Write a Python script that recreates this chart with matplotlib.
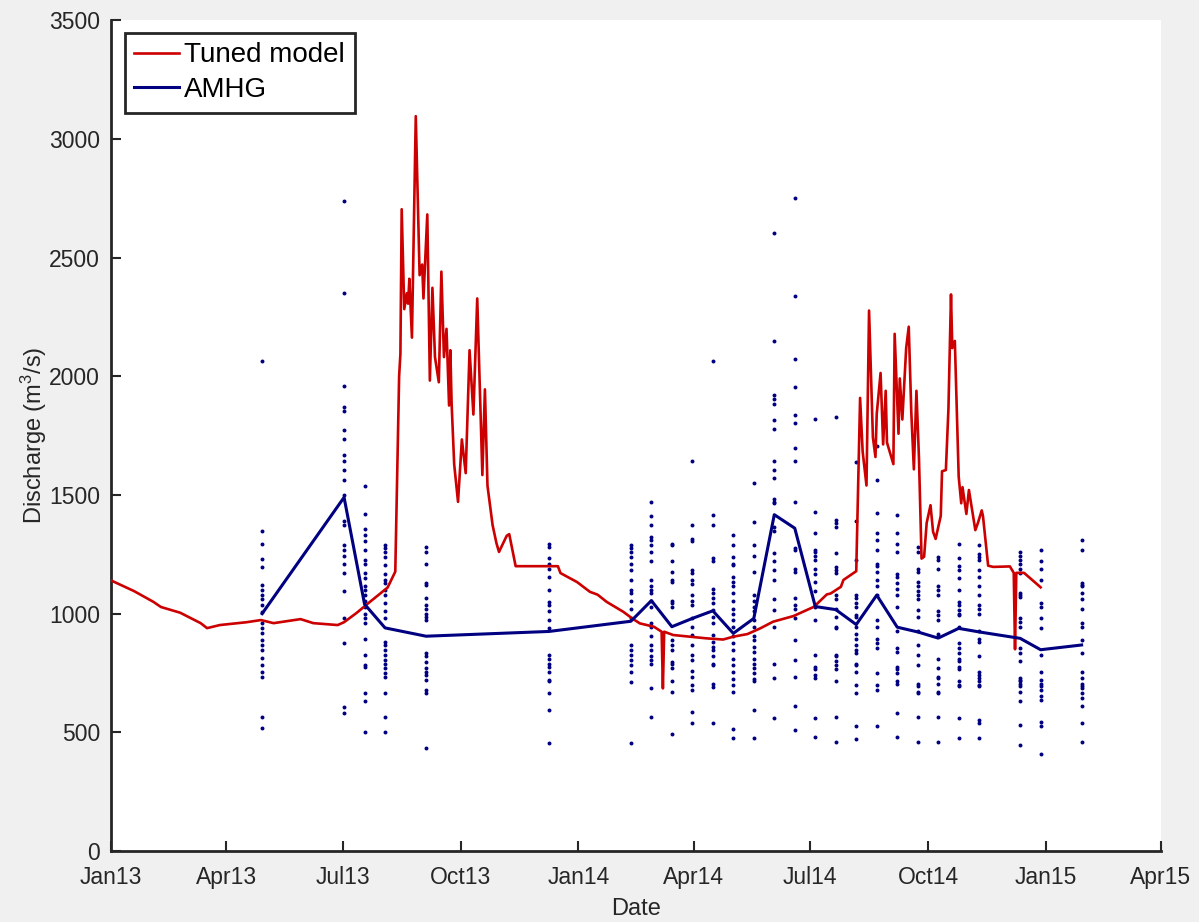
import matplotlib
matplotlib.use("Agg")
import matplotlib.pyplot as plt
import matplotlib.dates as mdates
import numpy as np

BG = "#f0f0f0"
RED = "#cc0000"
NAVY = "#000080"
AXC = "#262626"

plt.rcParams["font.family"] = ["Liberation Sans", "DejaVu Sans"]
plt.rcParams["mathtext.fontset"] = "custom"
plt.rcParams["mathtext.rm"] = "Liberation Sans"
plt.rcParams["mathtext.it"] = "Liberation Sans"

# Tuned model: days since 2013-01-01 and discharge (m3/s)
model_day = [0, 18, 33, 39, 54, 70, 75, 85, 106, 117, 127, 148, 158, 177, 182,
             192, 200, 216, 222, 225, 226, 227, 229, 231, 232, 233, 235, 238,
             241, 243, 244, 247, 249, 251, 253, 256, 258, 260, 262, 264, 265,
             266, 268, 271, 274, 277, 280, 283, 286, 290, 292, 294, 298, 301,
             303, 309, 311, 316, 349, 351, 364, 374, 380, 387, 400, 407, 413,
             424, 430, 431, 432, 439, 452, 465, 478, 486, 497, 507, 517, 533,
             549, 559, 562, 570, 572, 582, 585, 587, 590, 592, 595, 597, 598,
             601, 603, 605, 606, 611, 612, 615, 616, 618, 621, 623, 625, 627,
             629, 631, 633, 635, 637, 640, 642, 644, 648, 649, 652, 654, 656,
             657, 659, 662, 664, 665, 668, 670, 675, 677, 680, 681, 685, 689,
             702, 705, 706, 707, 713, 726]
model_q = [1140, 1095, 1050, 1028, 1004, 960, 939, 952, 964, 973, 960, 977, 960,
           952, 964, 1004, 1040, 1110, 1177, 2000, 2095, 2704, 2283, 2350, 2306,
           2411, 2163, 3096, 2426, 2471, 2328, 2682, 1982, 2373, 2081, 1975,
           2441, 2081, 2200, 1877, 2110, 1884, 1629, 1471, 1734, 1592, 2110,
           1839, 2328, 1584, 1945, 1539, 1373, 1297, 1260, 1328, 1335, 1200,
           1200, 1171, 1133, 1092, 1080, 1050, 1008, 980, 959, 945, 924, 685,
           924, 910, 903, 896, 891, 903, 914, 938, 966, 990, 1029, 1081, 1085,
           1113, 1142, 1179, 1909, 1683, 1540, 2277, 1743, 1660, 1841, 2014,
           1713, 1939, 1721, 1630, 2179, 1758, 1991, 1818, 2119, 2209, 1848,
           1608, 1939, 1653, 1232, 1240, 1382, 1457, 1345, 1315, 1412, 1600,
           1605, 1863, 2345, 2119, 2149, 1578, 1465, 1533, 1420, 1521, 1352,
           1382, 1435, 1410, 1202, 1197, 1199, 1172, 850, 1172, 1172, 1111]

# AMHG: overpass dates, median estimate and the individual estimates
obs_dates = ["2013-04-29", "2013-07-02", "2013-07-18", "2013-08-03", "2013-09-04",
             "2013-12-09", "2014-02-11", "2014-02-27", "2014-03-15", "2014-03-31",
             "2014-04-16", "2014-05-02", "2014-05-18", "2014-06-03", "2014-06-19",
             "2014-07-05", "2014-07-21", "2014-08-06", "2014-08-22", "2014-09-07",
             "2014-09-23", "2014-10-09", "2014-10-25", "2014-11-10", "2014-12-12",
             "2014-12-28", "2015-01-29"]
amhg_q = [1000, 1490, 1040, 940, 905, 925, 968, 1055, 945, 980, 1012, 917, 980,
          1417, 1360, 1030, 1017, 954, 1078, 943, 923, 897, 938, 923, 896, 848, 868]
obs_q = [
    [2065, 1350, 1295, 1230, 1195, 1120, 1100, 1080, 1060, 1035, 1005, 960, 940,
     920, 890, 870, 845, 815, 785, 755, 735, 565, 520],
    [2740, 2350, 1960, 1870, 1855, 1775, 1735, 1670, 1645, 1605, 1565, 1500, 1390,
     1375, 1290, 1270, 1245, 1210, 1170, 1095, 980, 875, 605, 580],
    [1537, 1420, 1355, 1330, 1305, 1270, 1225, 1210, 1170, 1150, 1115, 1100, 1080,
     1055, 1030, 1000, 980, 960, 895, 825, 785, 775, 665, 630, 500],
    [1290, 1275, 1260, 1240, 1205, 1165, 1140, 1130, 1100, 1080, 1045, 1010, 980,
     880, 870, 845, 825, 805, 790, 770, 750, 735, 665, 565, 500],
    [1280, 1260, 1210, 1130, 1120, 1065, 1035, 1020, 1000, 985, 975, 835, 820, 795,
     770, 755, 740, 720, 680, 665, 435],
    [1295, 1280, 1235, 1210, 1190, 1155, 1100, 1050, 1035, 1010, 975, 940, 825, 810,
     790, 775, 755, 720, 715, 665, 595, 455],
    [1290, 1275, 1260, 1240, 1210, 1185, 1140, 1100, 1085, 1055, 1020, 980, 870, 845,
     825, 805, 785, 755, 710, 455],
    [1470, 1410, 1375, 1325, 1310, 1290, 1260, 1220, 1140, 1115, 1100, 1085, 1055,
     1030, 960, 945, 905, 870, 845, 820, 805, 790, 685, 565],
    [1295, 1290, 1220, 1175, 1140, 1135, 1055, 1045, 1030, 890, 870, 845, 795, 790,
     770, 715, 670, 495],
    [1645, 1375, 1315, 1305, 1185, 1170, 1140, 1125, 1080, 1055, 1035, 980, 945, 910,
     870, 825, 805, 760, 735, 700, 680, 585, 540],
    [2065, 1415, 1375, 1235, 1220, 1105, 1085, 1065, 1045, 1015, 985, 960, 910, 880,
     860, 845, 820, 790, 785, 705, 690, 540],
    [1330, 1290, 1240, 1210, 1205, 1155, 1135, 1115, 1085, 1055, 1020, 1000, 975, 945,
     905, 875, 845, 810, 785, 755, 725, 700, 670, 515, 475],
    [1550, 1385, 1290, 1245, 1175, 1080, 1055, 1030, 1010, 975, 945, 905, 890, 860,
     840, 810, 790, 770, 750, 725, 715, 595, 475],
    [2605, 2150, 1920, 1905, 1885, 1815, 1780, 1645, 1605, 1570, 1485, 1470, 1465,
     1365, 1350, 1255, 1220, 1185, 1140, 1060, 1015, 945, 790, 730, 560],
    [2750, 2340, 2075, 1955, 1835, 1805, 1700, 1645, 1470, 1275, 1270, 1190, 1175,
     1065, 1035, 1020, 980, 890, 805, 735, 610, 510],
    [1820, 1430, 1340, 1270, 1260, 1245, 1225, 1190, 1165, 1135, 1095, 1030, 975, 825,
     775, 765, 740, 730, 560, 480],
    [1830, 1395, 1380, 1365, 1255, 1195, 1185, 1170, 1080, 1060, 1020, 985, 945, 940,
     825, 820, 800, 785, 765, 715, 565, 460],
    [1640, 1390, 1225, 1080, 1065, 1045, 1030, 995, 985, 945, 915, 895, 870, 845, 835,
     790, 785, 755, 700, 665, 525, 470],
    [1705, 1565, 1425, 1340, 1310, 1270, 1210, 1200, 1175, 1140, 1115, 1080, 975, 945,
     895, 875, 855, 750, 700, 680, 525],
    [1415, 1340, 1295, 1260, 1165, 1155, 1130, 1105, 1080, 1030, 925, 855, 840, 775,
     765, 750, 715, 705, 580, 480],
    [1280, 1260, 1190, 1175, 1135, 1115, 1095, 1080, 1060, 1015, 985, 925, 870, 825,
     785, 705, 695, 670, 665, 565, 460],
    [1240, 1225, 1190, 1115, 1100, 1080, 1010, 995, 975, 915, 905, 810, 770, 735, 730,
     705, 670, 665, 565, 460],
    [1295, 1235, 1200, 1185, 1150, 1100, 1050, 1035, 1015, 1000, 995, 945, 875, 855,
     835, 810, 800, 775, 765, 715, 700, 695, 560, 475],
    [1290, 1250, 1240, 1225, 1185, 1155, 1115, 1080, 1035, 1020, 1000, 925, 895, 880,
     820, 755, 740, 730, 715, 700, 695, 550, 540, 475],
    [1260, 1245, 1225, 1210, 1190, 1170, 1085, 1080, 1070, 980, 965, 945, 855, 835,
     800, 730, 720, 715, 705, 695, 670, 630, 530, 445],
    [1270, 1220, 1190, 1140, 1045, 1030, 980, 940, 825, 755, 720, 705, 695, 680, 655,
     635, 545, 525, 410],
    [1310, 1270, 1130, 1120, 1115, 1085, 1060, 1020, 960, 945, 890, 835, 755, 730, 705,
     695, 685, 665, 645, 610, 540, 460],
]

start = np.datetime64("2013-01-01")
model_t = start + np.array(model_day).astype("timedelta64[D]")
obs_t = np.array(obs_dates, dtype="datetime64[D]")

fig = plt.figure(figsize=(11.99, 9.22), dpi=100)
fig.patch.set_facecolor(BG)
ax = fig.add_axes([0.0926, 0.077, 0.8757, 0.901])
ax.set_facecolor("white")

for t, vals in zip(obs_t, obs_q):
    ax.scatter(np.full(len(vals), t), vals, s=8, color=NAVY,
               linewidths=0, zorder=2)

ax.plot(model_t, model_q, color=RED, linewidth=1.9, label="Tuned model", zorder=3)
ax.plot(obs_t, amhg_q, color=NAVY, linewidth=2.2, label="AMHG", zorder=4)

ax.set_xlim(np.datetime64("2013-01-01"), np.datetime64("2015-04-01"))
ax.set_ylim(0, 3500)
ax.set_yticks(np.arange(0, 3501, 500))
ax.xaxis.set_major_locator(mdates.MonthLocator(bymonth=[1, 4, 7, 10]))
ax.xaxis.set_major_formatter(mdates.DateFormatter("%b%y"))

for side in ["top", "right"]:
    ax.spines[side].set_visible(False)
for side in ["left", "bottom"]:
    ax.spines[side].set_color(AXC)
    ax.spines[side].set_linewidth(2)
ax.tick_params(direction="in", length=7, width=1.5, color=AXC,
               labelsize=16.5, labelcolor=AXC)
ax.tick_params(axis="x", pad=11)
ax.tick_params(axis="y", pad=8)

ax.set_xlabel("Date", fontsize=17, color=AXC, labelpad=6)
ax.set_ylabel("Discharge (m$^3$/s)", fontsize=17, color=AXC, labelpad=0)

leg = ax.legend(loc="upper left", bbox_to_anchor=(0.013, 0.985), borderaxespad=0,
                fontsize=20, frameon=True, fancybox=False, handlelength=1.6,
                handletextpad=0.2, borderpad=0.35, labelspacing=0.3)
leg.get_frame().set_edgecolor(AXC)
leg.get_frame().set_linewidth(2)
leg.get_frame().set_facecolor("white")
leg.get_frame().set_alpha(1)

fig.savefig("out.png", dpi=100, facecolor=BG)
